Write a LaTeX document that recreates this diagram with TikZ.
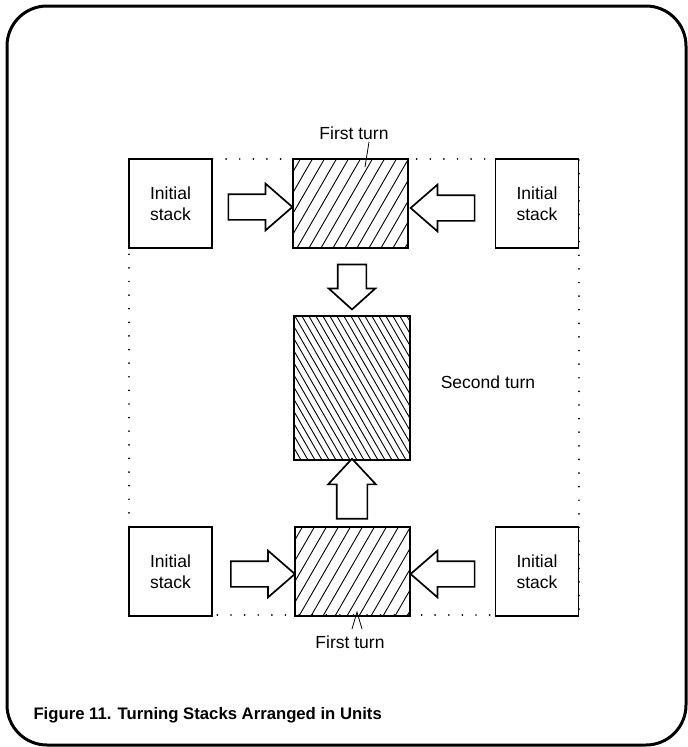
\documentclass[tikz,border=0pt]{standalone}
\usepackage{fontspec}
\setmainfont{Liberation Sans}
\usetikzlibrary{shapes.arrows}

\begin{document}
\begin{tikzpicture}[x=1pt,y=-1pt,every node/.style={font=\fontsize{17.5}{21}\selectfont,align=center},
  stack/.style={draw,line width=1.7pt,fill=white,minimum width=83pt,minimum height=89pt,inner sep=0pt},
  turnone/.style={draw,line width=1.9pt,minimum width=115pt,minimum height=89pt,
    path picture={\foreach \k in {-5,...,10} \draw[line width=0.9pt] ([xshift=\k*12pt+4pt]path picture bounding box.south west) -- ++(60:200pt);}},
  turntwo/.style={draw,line width=1.9pt,minimum width=116pt,minimum height=144pt,
    path picture={\foreach \k in {0,...,30} \draw[line width=0.9pt] ([xshift=\k*7pt]path picture bounding box.south west) -- ++(120:250pt);}},
  push/.style={single arrow,draw,line width=1.7pt,fill=white,inner xsep=0pt,inner ysep=12pt,single arrow head extend=10.5pt,single arrow tip angle=82,minimum height=64pt},
  dotline/.style={line width=1.9pt,line cap=round,dash pattern=on 0.01pt off 13.6pt}]
  \useasboundingbox (0,0) rectangle (688,747);

  % Frame
  \draw[line width=3pt,rounded corners=40pt] (7,6) rectangle (686,745);

  % Unit outline
  \draw[dotline] (129,159) rectangle (579,615);

  % Upper unit
  \node[stack] (s1) at (170.5,203.5) {Initial\\stack};
  \node[turnone] (t1) at (350.5,203.5) {};
  \node[stack] (s2) at (537,203.5) {Initial\\stack};
  \node[push] (a1) at (253,207) {};
  \node[push,rotate=180] (a2) at (450,208) {};
  \node (l1) at (354,133) {First turn};
  \coordinate (m1) at (365,167);
  \draw[line width=0.8pt] ([xshift=15pt,yshift=-9pt]l1.center) -- (m1);

  % Second turn
  \node[push,rotate=270,minimum height=45pt,inner ysep=13.5pt,single arrow head extend=9pt,single arrow tip angle=96] (a3) at (352,280.5) {};
  \node[turntwo] (t2) at (352,388) {};
  \node (l2) at (488,382) {Second turn};
  \node[push,rotate=90,minimum height=60pt,inner ysep=14.5pt,single arrow head extend=8.5pt,single arrow tip angle=86] (a4) at (352,497) {};

  % Lower unit
  \node[stack] (s3) at (170.5,571.5) {Initial\\stack};
  \node[turnone] (t3) at (352.5,571.5) {};
  \node[stack] (s4) at (537,571.5) {Initial\\stack};
  \node[push] (a5) at (255.5,574) {};
  \node[push,rotate=180] (a6) at (450,574) {};
  \node (l3) at (350,642) {First turn};
  \coordinate (m3) at (357,612);
  \draw[line width=0.8pt] ([xshift=2pt,yshift=13pt]l3.center) -- (m3) -- ([xshift=12pt,yshift=13pt]l3.center);

  % Caption
  \node[anchor=base west,font=\bfseries\fontsize{16.7}{20}\selectfont] (cap) at (30,719) {Figure 11. Turning Stacks Arranged in Units};
\end{tikzpicture}
\end{document}
